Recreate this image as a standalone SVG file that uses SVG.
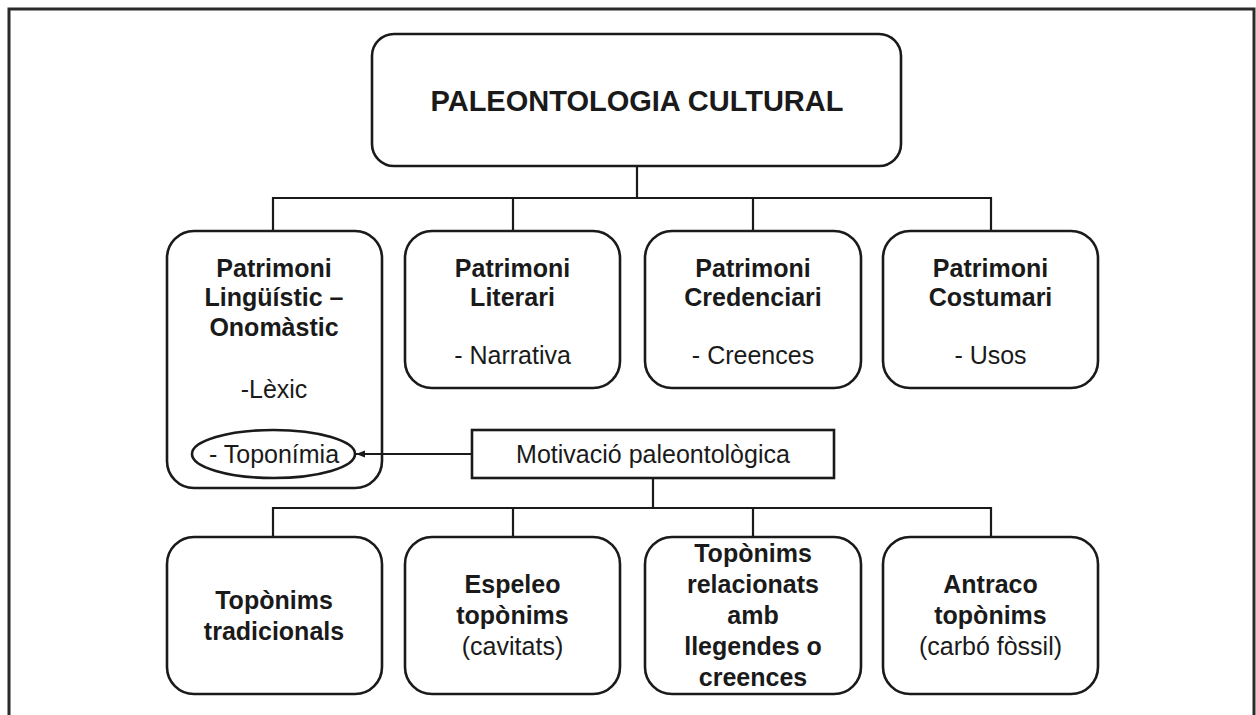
<svg xmlns="http://www.w3.org/2000/svg" width="1256" height="715" viewBox="0 0 1256 715">
<defs>
<style>
.node{fill:#fff;stroke:#1a1a1a;stroke-width:2.6}
.conn{fill:none;stroke:#1a1a1a;stroke-width:2.2}
.t{font-family:"Liberation Sans",Arial,sans-serif;font-size:25px;fill:#1a1a1a;text-anchor:middle}
.b{font-weight:bold}
.title{font-size:29px}
</style>
<marker id="arr" markerWidth="10" markerHeight="8" refX="9" refY="4" orient="auto" markerUnits="userSpaceOnUse">
<path d="M0,0.5 L9,4 L0,7.5 Z" fill="#1a1a1a"/>
</marker>
</defs>
<rect width="1256" height="715" fill="#fff"/>
<path d="M9,715 V9 H1254 V715" fill="none" stroke="#2a2a2a" stroke-width="3"/>

<g id="paleontologia-cultural">
<rect class="node" x="372" y="34" width="529" height="132" rx="22"/>
<text class="t b title" x="637" y="111">PALEONTOLOGIA CULTURAL</text>
</g>

<g id="patrimoni-linguistic">
<rect class="node" x="167" y="231" width="215" height="257" rx="27"/>
<text class="t b" x="274" y="277">Patrimoni</text>
<text class="t b" x="274" y="306">Lingüístic –</text>
<text class="t b" x="274" y="336">Onomàstic</text>
<text class="t" x="274" y="398">-Lèxic</text>
</g>

<g id="toponimia">
<ellipse cx="273.5" cy="454" rx="81.5" ry="24" fill="none" stroke="#1a1a1a" stroke-width="2.6"/>
<text class="t" x="274" y="463">- Toponímia</text>
</g>

<g id="patrimoni-literari">
<rect class="node" x="405" y="231" width="215" height="157" rx="27"/>
<text class="t b" x="512.5" y="277">Patrimoni</text>
<text class="t b" x="512.5" y="306">Literari</text>
<text class="t" x="512.5" y="364">- Narrativa</text>
</g>

<g id="patrimoni-credenciari">
<rect class="node" x="645" y="231" width="216" height="157" rx="27"/>
<text class="t b" x="753" y="277">Patrimoni</text>
<text class="t b" x="753" y="306">Credenciari</text>
<text class="t" x="753" y="364">- Creences</text>
</g>

<g id="patrimoni-costumari">
<rect class="node" x="883" y="231" width="215" height="157" rx="27"/>
<text class="t b" x="990.5" y="277">Patrimoni</text>
<text class="t b" x="990.5" y="306">Costumari</text>
<text class="t" x="990.5" y="364">- Usos</text>
</g>

<g id="motivacio">
<rect class="node" x="472" y="430" width="362" height="48" stroke-width="3"/>
<text class="t" x="653" y="463">Motivació paleontològica</text>
</g>

<g id="toponims-tradicionals">
<rect class="node" x="167" y="537" width="215" height="157" rx="27"/>
<text class="t b" x="274" y="609">Topònims</text>
<text class="t b" x="274" y="640">tradicionals</text>
</g>

<g id="espeleo-toponims">
<rect class="node" x="405" y="537" width="215" height="157" rx="27"/>
<text class="t b" x="512.5" y="593">Espeleo</text>
<text class="t b" x="512.5" y="624">topònims</text>
<text class="t" x="512.5" y="655">(cavitats)</text>
</g>

<g id="toponims-relacionats">
<rect class="node" x="645" y="537" width="216" height="157" rx="27"/>
<text class="t b" x="753" y="562">Topònims</text>
<text class="t b" x="753" y="593">relacionats</text>
<text class="t b" x="753" y="624">amb</text>
<text class="t b" x="753" y="655">llegendes o</text>
<text class="t b" x="753" y="686">creences</text>
</g>

<g id="antraco-toponims">
<rect class="node" x="883" y="537" width="215" height="157" rx="27"/>
<text class="t b" x="990.5" y="593">Antraco</text>
<text class="t b" x="990.5" y="624">topònims</text>
<text class="t" x="990.5" y="655">(carbó fòssil)</text>
</g>

<g id="connectors">
<path class="conn" d="M637,166 V198 M273,231 V198 H991 V231 M513,198 V231 M753,198 V231"/>
<path class="conn" d="M653,478 V508 M273,537 V508 H991 V537 M513,508 V537 M753,508 V537"/>
<line class="conn" x1="472" y1="454" x2="356" y2="454" marker-end="url(#arr)"/>
</g>
</svg>
